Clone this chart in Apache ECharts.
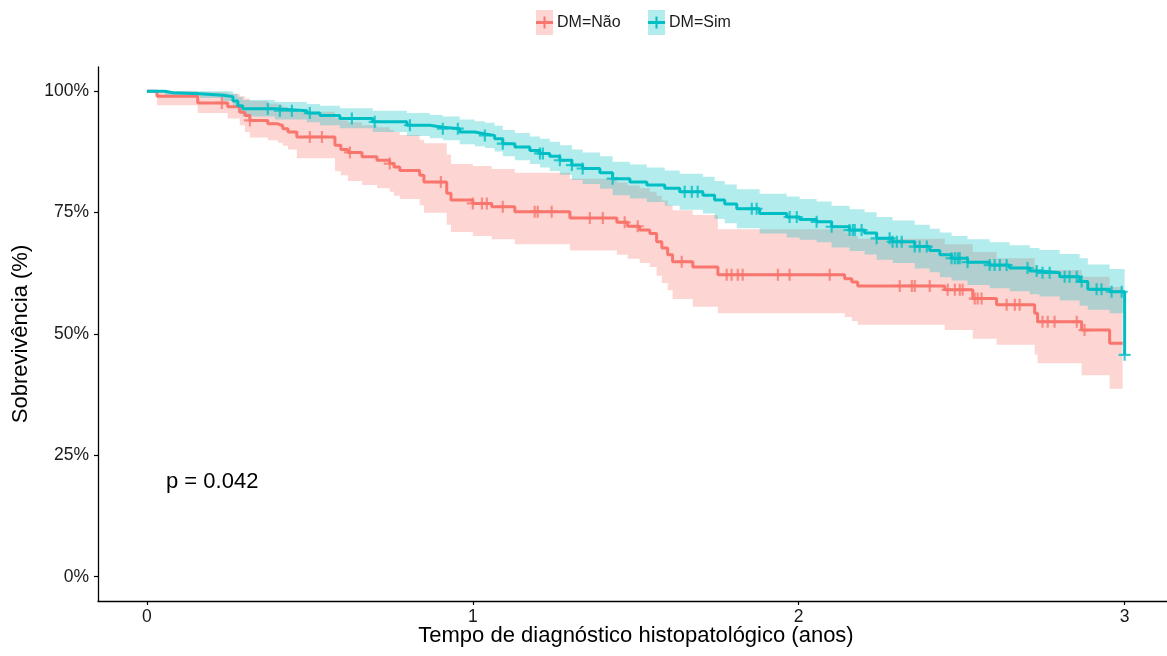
<!DOCTYPE html>
<html><head><meta charset="utf-8">
<script src="https://cdn.jsdelivr.net/npm/echarts@6/dist/echarts.min.js"></script>
<style>html,body{margin:0;padding:0;background:#fff}#c{width:1167px;height:656px}</style>
</head><body><div id="c"></div>
<script>
// ---------- data ----------
const groups = ['DM=Não', 'DM=Sim'];
const xTicks = [0, 1, 2, 3];
const yTicks = [0, 25, 50, 75, 100];
const pText = 'p = 0.042';

// DM=Não (time in years, survival in %)
const naoTime  = [0,0.031,0.156,0.248,0.285,0.301,0.316,0.371,0.402,0.417,0.433,0.460,0.577,0.595,0.617,0.660,0.706,0.745,0.758,0.776,0.837,0.850,0.920,0.933,1.000,1.058,1.129,1.298,1.442,1.475,1.512,1.543,1.564,1.580,1.598,1.613,1.675,1.752,2.141,2.163,2.181,2.448,2.534,2.607,2.724,2.733,2.868,2.954,2.994];
const naoSurv  = [100,99.0,97.6,96.8,95.7,95.0,94.0,93.3,92.9,92.3,91.6,90.6,88.9,88.0,87.4,86.5,85.8,85.1,84.4,83.7,82.7,81.3,79.0,77.6,76.9,76.2,75.2,73.9,73.0,72.2,71.4,70.7,69.0,67.7,66.3,64.9,63.8,62.2,61.4,60.7,59.9,59.1,57.3,56.0,54.3,52.5,50.8,48.1,48.1];
const naoUpper = [100,100,99.8,99.5,99.0,98.5,98.0,97.5,97.2,96.8,96.4,95.8,94.5,94.0,93.6,93.0,92.6,92.0,91.6,91.0,90.0,89.3,87.0,85.0,84.6,84.0,83.2,82.0,81.2,80.6,80.0,79.3,78.5,77.5,76.5,75.5,74.5,71.6,70.9,70.2,69.6,68.5,66.9,65.6,64.0,63.2,61.8,59.7,59.7];
const naoLower = [100,97.1,95.5,94.4,93.0,91.6,90.5,89.9,89.4,88.8,88.0,86.2,83.5,82.7,81.5,80.7,80.0,79.3,78.5,77.8,76.5,75.0,72.5,71.0,70.2,69.5,68.5,67.2,66.3,65.5,64.6,63.8,62.0,60.5,59.0,57.2,55.6,54.3,53.5,52.7,51.9,50.8,49.0,47.8,45.8,44.0,41.5,38.7,38.7];
const naoCensor = [0.230,0.316,0.500,0.537,0.623,0.745,0.902,1.000,1.028,1.043,1.092,1.190,1.199,1.242,1.359,1.399,1.466,1.506,1.641,1.779,1.794,1.813,1.828,1.936,1.972,2.095,2.310,2.347,2.356,2.402,2.457,2.479,2.494,2.503,2.540,2.549,2.561,2.638,2.663,2.678,2.748,2.764,2.785,2.853,2.877];

// DM=Sim
const simTime  = [0,0.055,0.080,0.163,0.233,0.264,0.279,0.294,0.393,0.491,0.531,0.592,0.693,0.798,0.868,0.908,0.960,1.006,1.037,1.067,1.092,1.129,1.175,1.206,1.236,1.267,1.304,1.337,1.390,1.429,1.482,1.534,1.589,1.635,1.706,1.742,1.773,1.810,1.880,1.963,2.003,2.055,2.101,2.156,2.202,2.239,2.288,2.356,2.402,2.433,2.469,2.518,2.586,2.647,2.709,2.739,2.801,2.862,2.887,2.954,3.000];
const simSurv  = [100,99.7,99.5,99.2,98.9,98.0,97.0,96.4,96.0,95.5,95.0,94.4,93.7,93.0,92.6,92.3,91.6,91.2,90.9,90.2,89.2,88.5,87.8,87.2,86.6,85.8,84.8,84.1,83.2,82.0,81.3,80.7,80.0,79.3,78.6,77.6,76.8,75.8,74.8,74.1,73.6,73.1,72.1,71.4,70.8,69.7,69.0,68.0,67.2,66.3,65.6,64.8,64.2,63.6,63.0,62.6,61.8,60.8,59.2,58.7,45.7];
const simUpper = [100,100,100,100,100,99.5,98.8,98.2,97.8,97.4,97.0,96.5,96.0,95.5,95.1,94.8,94.2,93.8,93.5,92.9,92.0,91.4,90.7,90.2,89.6,88.9,88.0,87.4,86.6,85.5,84.9,84.3,83.7,83.0,82.4,81.5,80.8,79.8,78.9,78.3,77.8,77.3,76.4,75.7,75.1,74.1,73.4,72.5,71.7,70.9,70.2,69.5,68.9,68.3,67.7,67.3,66.5,65.6,64.3,63.4,63.4];
const simLower = [100,99.2,99.0,98.6,98.0,96.8,95.6,94.8,94.2,93.6,93.0,92.4,91.6,90.8,90.3,89.9,89.1,88.7,88.3,87.6,86.6,85.8,85.0,84.3,83.6,82.8,81.7,80.9,79.9,78.6,77.9,77.2,76.4,75.6,74.8,73.7,72.8,71.8,70.7,69.9,69.4,68.9,67.8,67.1,66.4,65.3,64.6,63.5,62.7,61.7,61.0,60.1,59.4,58.8,58.2,57.7,56.9,55.8,55.0,54.3,54.3];
const simCensor = [0.371,0.408,0.445,0.500,0.629,0.699,0.807,0.908,0.954,1.037,1.092,1.206,1.215,1.267,1.304,1.337,1.429,1.650,1.672,1.690,1.856,1.871,1.972,1.994,2.055,2.101,2.156,2.166,2.172,2.193,2.239,2.279,2.288,2.301,2.316,2.356,2.371,2.393,2.469,2.479,2.488,2.494,2.518,2.586,2.601,2.617,2.638,2.702,2.730,2.748,2.770,2.816,2.831,2.853,2.868,2.914,2.929,2.960,2.991,3.000];

// ---------- styles ----------
const RED = '#F8766D', TEAL = '#00BFC4';
const RED_BAND = 'rgba(248,118,109,0.3)', TEAL_BAND = 'rgba(0,191,196,0.3)';
const FONT = "'Liberation Sans', Arial, sans-serif";
const PLUS = 'path://M4.1,0h1.8v4.1h4.1v1.8h-4.1v4.1h-1.8v-4.1h-4.1v-1.8h4.1z';

function zip(a, b) { return a.map((v, i) => [v, b[i]]); }
function survAt(times, surv, t) {
  let idx = 0;
  for (let i = 0; i < times.length; i++) { if (times[i] <= t + 1e-9) idx = i; }
  return surv[idx];
}
function censorPts(ct, times, surv) { return ct.map(t => [t, survAt(times, surv, t)]); }

// step-shaped confidence band drawn as one polygon through the cartesian scales
function bandSeries(times, lower, upper, color) {
  return {
    type: 'custom', coordinateSystem: 'cartesian2d', silent: true, z: 1,
    data: [[times[0], upper[0]]],
    renderItem: function (params, api) {
      const pts = [];
      for (let i = 0; i < times.length; i++) {
        pts.push(api.coord([times[i], upper[i]]));
        if (i < times.length - 1) pts.push(api.coord([times[i + 1], upper[i]]));
      }
      for (let i = times.length - 1; i >= 0; i--) {
        if (i < times.length - 1) pts.push(api.coord([times[i + 1], lower[i]]));
        pts.push(api.coord([times[i], lower[i]]));
      }
      return { type: 'polygon', shape: { points: pts }, style: { fill: color } };
    }
  };
}

const chart = echarts.init(document.getElementById('c'), null, { renderer: 'canvas' });

chart.setOption({
  animation: false,
  backgroundColor: '#fff',
  textStyle: { fontFamily: FONT },
  grid: { left: 98, right: 0, top: 67, bottom: 55, containLabel: false },
  xAxis: {
    type: 'value', min: -0.15, max: 3.13,
    splitLine: { show: false },
    axisLine: { show: true, onZero: false, lineStyle: { color: '#000', width: 1.3 } },
    axisTick: { show: true, length: 4, customValues: xTicks, lineStyle: { color: '#000', width: 1.2 } },
    axisLabel: { customValues: xTicks, color: '#1a1a1a', fontSize: 17.5, margin: 7, fontFamily: FONT }
  },
  yAxis: {
    type: 'value', min: -5, max: 105,
    splitLine: { show: false },
    axisLine: { show: true, onZero: false, lineStyle: { color: '#000', width: 1.3 } },
    axisTick: { show: true, length: 4, customValues: yTicks, lineStyle: { color: '#000', width: 1.2 } },
    axisLabel: { customValues: yTicks, color: '#1a1a1a', fontSize: 17.5, margin: 9, fontFamily: FONT,
      formatter: v => v + '%' }
  },
  series: [
    bandSeries(naoTime, naoLower, naoUpper, RED_BAND),
    bandSeries(simTime, simLower, simUpper, TEAL_BAND),
    { name: groups[0], type: 'line', step: 'end', data: zip(naoTime, naoSurv), symbol: 'none',
      lineStyle: { color: RED, width: 3 }, z: 3, silent: true },
    { name: groups[1], type: 'line', step: 'end', data: zip(simTime, simSurv), symbol: 'none',
      lineStyle: { color: TEAL, width: 3 }, z: 4, silent: true },
    { type: 'scatter', data: censorPts(naoCensor, naoTime, naoSurv), symbol: PLUS, symbolSize: 12,
      itemStyle: { color: RED }, z: 5, silent: true },
    { type: 'scatter', data: censorPts(simCensor, simTime, simSurv), symbol: PLUS, symbolSize: 12,
      itemStyle: { color: TEAL }, z: 6, silent: true }
  ],
  graphic: [
    // legend
    { type: 'rect', shape: { x: 536, y: 10, width: 17, height: 25 }, style: { fill: RED_BAND } },
    { type: 'line', shape: { x1: 536, y1: 22.5, x2: 553, y2: 22.5 }, style: { stroke: RED, lineWidth: 3 } },
    { type: 'line', shape: { x1: 544.5, y1: 16.5, x2: 544.5, y2: 28.5 }, style: { stroke: RED, lineWidth: 2 } },
    { type: 'text', x: 557, y: 22.5, style: { text: groups[0], font: '16px ' + FONT, fill: '#1a1a1a', verticalAlign: 'middle' } },
    { type: 'rect', shape: { x: 648, y: 10, width: 17, height: 25 }, style: { fill: TEAL_BAND } },
    { type: 'line', shape: { x1: 648, y1: 22.5, x2: 665, y2: 22.5 }, style: { stroke: TEAL, lineWidth: 3 } },
    { type: 'line', shape: { x1: 656.5, y1: 16.5, x2: 656.5, y2: 28.5 }, style: { stroke: TEAL, lineWidth: 2 } },
    { type: 'text', x: 669, y: 22.5, style: { text: groups[1], font: '16px ' + FONT, fill: '#1a1a1a', verticalAlign: 'middle' } },
    // axis titles
    { type: 'text', x: 636, y: 636, style: { text: 'Tempo de diagnóstico histopatológico (anos)', font: '22px ' + FONT, fill: '#000', align: 'center', verticalAlign: 'middle' } },
    { type: 'text', x: 21, y: 334, rotation: Math.PI / 2, style: { text: 'Sobrevivência (%)', font: '22px ' + FONT, fill: '#000', align: 'center', verticalAlign: 'middle' } },
    // p-value
    { type: 'text', x: 166, y: 482, style: { text: pText, font: '22px ' + FONT, fill: '#000', verticalAlign: 'middle' } }
  ]
});
</script>
</body></html>
